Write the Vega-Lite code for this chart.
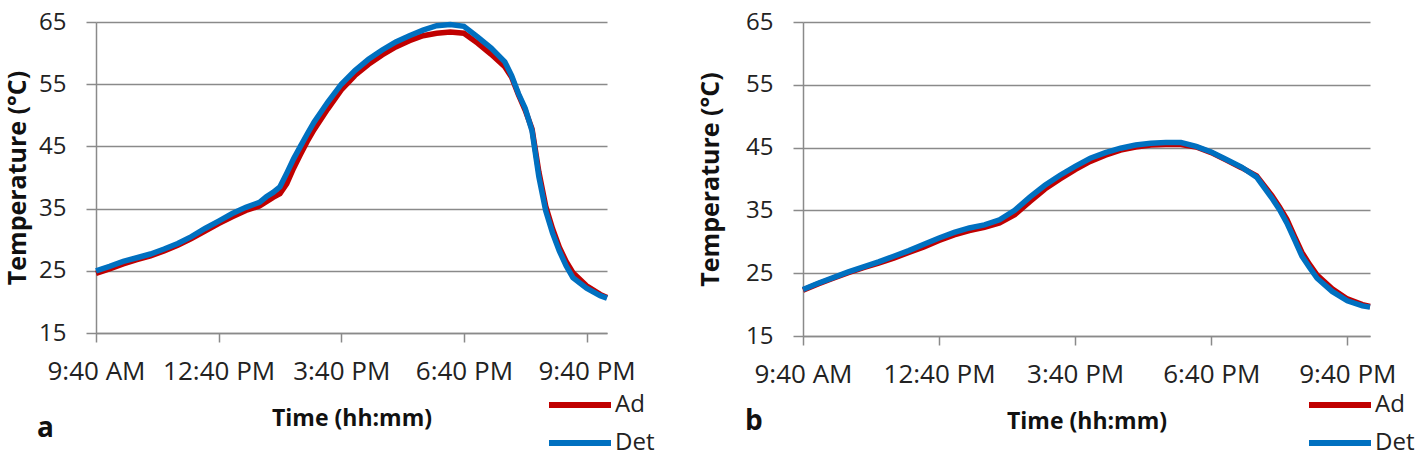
{
  "$schema": "https://vega.github.io/schema/vega-lite/v6.json",
  "background": "white",
  "padding": {"left": 5, "top": 10, "right": 0, "bottom": 0},
  "autosize": {"type": "pad"},
  "config": {
    "font": "Open Sans",
    "view": {"stroke": null},
    "axis": {
      "domainColor": "#8a8a8a",
      "domainWidth": 1.5,
      "tickColor": "#8a8a8a",
      "tickWidth": 1.5,
      "gridColor": "#8a8a8a",
      "gridWidth": 1.5,
      "labelColor": "#222222",
      "titleColor": "#111111",
      "labelFont": "Open Sans",
      "titleFont": "Open Sans",
      "titleFontWeight": "bold"
    }
  },
  "data": {"values": [
    {"panel":"a","time":"2020-01-01T09:40","series":"Ad","temp":24.6},
    {"panel":"a","time":"2020-01-01T10:00","series":"Ad","temp":25.3},
    {"panel":"a","time":"2020-01-01T10:20","series":"Ad","temp":26.1},
    {"panel":"a","time":"2020-01-01T10:40","series":"Ad","temp":26.8},
    {"panel":"a","time":"2020-01-01T11:00","series":"Ad","temp":27.4},
    {"panel":"a","time":"2020-01-01T11:20","series":"Ad","temp":28.2},
    {"panel":"a","time":"2020-01-01T11:40","series":"Ad","temp":29.1},
    {"panel":"a","time":"2020-01-01T12:00","series":"Ad","temp":30.2},
    {"panel":"a","time":"2020-01-01T12:20","series":"Ad","temp":31.4},
    {"panel":"a","time":"2020-01-01T12:40","series":"Ad","temp":32.6},
    {"panel":"a","time":"2020-01-01T13:00","series":"Ad","temp":33.7},
    {"panel":"a","time":"2020-01-01T13:20","series":"Ad","temp":34.7},
    {"panel":"a","time":"2020-01-01T13:40","series":"Ad","temp":35.4},
    {"panel":"a","time":"2020-01-01T14:00","series":"Ad","temp":36.8},
    {"panel":"a","time":"2020-01-01T14:10","series":"Ad","temp":37.4},
    {"panel":"a","time":"2020-01-01T14:20","series":"Ad","temp":39.0},
    {"panel":"a","time":"2020-01-01T14:30","series":"Ad","temp":41.5},
    {"panel":"a","time":"2020-01-01T14:40","series":"Ad","temp":43.7},
    {"panel":"a","time":"2020-01-01T14:50","series":"Ad","temp":45.8},
    {"panel":"a","time":"2020-01-01T15:00","series":"Ad","temp":47.7},
    {"panel":"a","time":"2020-01-01T15:20","series":"Ad","temp":51.0},
    {"panel":"a","time":"2020-01-01T15:40","series":"Ad","temp":54.1},
    {"panel":"a","time":"2020-01-01T16:00","series":"Ad","temp":56.4},
    {"panel":"a","time":"2020-01-01T16:20","series":"Ad","temp":58.2},
    {"panel":"a","time":"2020-01-01T16:40","series":"Ad","temp":59.7},
    {"panel":"a","time":"2020-01-01T17:00","series":"Ad","temp":61.0},
    {"panel":"a","time":"2020-01-01T17:20","series":"Ad","temp":62.0},
    {"panel":"a","time":"2020-01-01T17:40","series":"Ad","temp":62.8},
    {"panel":"a","time":"2020-01-01T18:00","series":"Ad","temp":63.2},
    {"panel":"a","time":"2020-01-01T18:20","series":"Ad","temp":63.4},
    {"panel":"a","time":"2020-01-01T18:40","series":"Ad","temp":63.2},
    {"panel":"a","time":"2020-01-01T19:00","series":"Ad","temp":61.6},
    {"panel":"a","time":"2020-01-01T19:20","series":"Ad","temp":59.8},
    {"panel":"a","time":"2020-01-01T19:40","series":"Ad","temp":57.8},
    {"panel":"a","time":"2020-01-01T19:50","series":"Ad","temp":56.1},
    {"panel":"a","time":"2020-01-01T20:00","series":"Ad","temp":53.3},
    {"panel":"a","time":"2020-01-01T20:10","series":"Ad","temp":50.8},
    {"panel":"a","time":"2020-01-01T20:20","series":"Ad","temp":47.8},
    {"panel":"a","time":"2020-01-01T20:30","series":"Ad","temp":40.9},
    {"panel":"a","time":"2020-01-01T20:40","series":"Ad","temp":35.4},
    {"panel":"a","time":"2020-01-01T20:50","series":"Ad","temp":31.8},
    {"panel":"a","time":"2020-01-01T21:00","series":"Ad","temp":28.8},
    {"panel":"a","time":"2020-01-01T21:10","series":"Ad","temp":26.5},
    {"panel":"a","time":"2020-01-01T21:20","series":"Ad","temp":24.7},
    {"panel":"a","time":"2020-01-01T21:40","series":"Ad","temp":22.6},
    {"panel":"a","time":"2020-01-01T22:00","series":"Ad","temp":21.2},
    {"panel":"a","time":"2020-01-01T22:10","series":"Ad","temp":20.7},
    {"panel":"a","time":"2020-01-01T09:40","series":"Det","temp":25.0},
    {"panel":"a","time":"2020-01-01T10:00","series":"Det","temp":25.7},
    {"panel":"a","time":"2020-01-01T10:20","series":"Det","temp":26.5},
    {"panel":"a","time":"2020-01-01T10:40","series":"Det","temp":27.1},
    {"panel":"a","time":"2020-01-01T11:00","series":"Det","temp":27.7},
    {"panel":"a","time":"2020-01-01T11:20","series":"Det","temp":28.5},
    {"panel":"a","time":"2020-01-01T11:40","series":"Det","temp":29.4},
    {"panel":"a","time":"2020-01-01T12:00","series":"Det","temp":30.5},
    {"panel":"a","time":"2020-01-01T12:20","series":"Det","temp":31.8},
    {"panel":"a","time":"2020-01-01T12:40","series":"Det","temp":33.0},
    {"panel":"a","time":"2020-01-01T13:00","series":"Det","temp":34.2},
    {"panel":"a","time":"2020-01-01T13:20","series":"Det","temp":35.2},
    {"panel":"a","time":"2020-01-01T13:40","series":"Det","temp":36.0},
    {"panel":"a","time":"2020-01-01T13:50","series":"Det","temp":36.9},
    {"panel":"a","time":"2020-01-01T14:00","series":"Det","temp":37.6},
    {"panel":"a","time":"2020-01-01T14:10","series":"Det","temp":38.5},
    {"panel":"a","time":"2020-01-01T14:20","series":"Det","temp":40.7},
    {"panel":"a","time":"2020-01-01T14:30","series":"Det","temp":43.0},
    {"panel":"a","time":"2020-01-01T14:40","series":"Det","temp":45.0},
    {"panel":"a","time":"2020-01-01T14:50","series":"Det","temp":47.0},
    {"panel":"a","time":"2020-01-01T15:00","series":"Det","temp":48.9},
    {"panel":"a","time":"2020-01-01T15:20","series":"Det","temp":52.1},
    {"panel":"a","time":"2020-01-01T15:40","series":"Det","temp":55.0},
    {"panel":"a","time":"2020-01-01T16:00","series":"Det","temp":57.2},
    {"panel":"a","time":"2020-01-01T16:20","series":"Det","temp":59.0},
    {"panel":"a","time":"2020-01-01T16:40","series":"Det","temp":60.5},
    {"panel":"a","time":"2020-01-01T17:00","series":"Det","temp":61.8},
    {"panel":"a","time":"2020-01-01T17:20","series":"Det","temp":62.8},
    {"panel":"a","time":"2020-01-01T17:40","series":"Det","temp":63.7},
    {"panel":"a","time":"2020-01-01T18:00","series":"Det","temp":64.4},
    {"panel":"a","time":"2020-01-01T18:20","series":"Det","temp":64.6},
    {"panel":"a","time":"2020-01-01T18:40","series":"Det","temp":64.3},
    {"panel":"a","time":"2020-01-01T19:00","series":"Det","temp":62.6},
    {"panel":"a","time":"2020-01-01T19:20","series":"Det","temp":60.8},
    {"panel":"a","time":"2020-01-01T19:40","series":"Det","temp":58.6},
    {"panel":"a","time":"2020-01-01T19:50","series":"Det","temp":56.4},
    {"panel":"a","time":"2020-01-01T20:00","series":"Det","temp":53.5},
    {"panel":"a","time":"2020-01-01T20:10","series":"Det","temp":51.1},
    {"panel":"a","time":"2020-01-01T20:20","series":"Det","temp":47.5},
    {"panel":"a","time":"2020-01-01T20:30","series":"Det","temp":40.1},
    {"panel":"a","time":"2020-01-01T20:40","series":"Det","temp":34.7},
    {"panel":"a","time":"2020-01-01T20:50","series":"Det","temp":31.1},
    {"panel":"a","time":"2020-01-01T21:00","series":"Det","temp":28.2},
    {"panel":"a","time":"2020-01-01T21:10","series":"Det","temp":25.8},
    {"panel":"a","time":"2020-01-01T21:20","series":"Det","temp":23.9},
    {"panel":"a","time":"2020-01-01T21:40","series":"Det","temp":22.2},
    {"panel":"a","time":"2020-01-01T22:00","series":"Det","temp":21.0},
    {"panel":"a","time":"2020-01-01T22:10","series":"Det","temp":20.6},
    {"panel":"b","time":"2020-01-01T09:40","series":"Ad","temp":22.3},
    {"panel":"b","time":"2020-01-01T10:00","series":"Ad","temp":23.3},
    {"panel":"b","time":"2020-01-01T10:20","series":"Ad","temp":24.2},
    {"panel":"b","time":"2020-01-01T10:40","series":"Ad","temp":25.1},
    {"panel":"b","time":"2020-01-01T11:00","series":"Ad","temp":25.9},
    {"panel":"b","time":"2020-01-01T11:20","series":"Ad","temp":26.6},
    {"panel":"b","time":"2020-01-01T11:40","series":"Ad","temp":27.4},
    {"panel":"b","time":"2020-01-01T12:00","series":"Ad","temp":28.3},
    {"panel":"b","time":"2020-01-01T12:20","series":"Ad","temp":29.2},
    {"panel":"b","time":"2020-01-01T12:40","series":"Ad","temp":30.2},
    {"panel":"b","time":"2020-01-01T13:00","series":"Ad","temp":31.1},
    {"panel":"b","time":"2020-01-01T13:20","series":"Ad","temp":31.8},
    {"panel":"b","time":"2020-01-01T13:40","series":"Ad","temp":32.3},
    {"panel":"b","time":"2020-01-01T14:00","series":"Ad","temp":33.0},
    {"panel":"b","time":"2020-01-01T14:20","series":"Ad","temp":34.3},
    {"panel":"b","time":"2020-01-01T14:40","series":"Ad","temp":36.4},
    {"panel":"b","time":"2020-01-01T15:00","series":"Ad","temp":38.4},
    {"panel":"b","time":"2020-01-01T15:20","series":"Ad","temp":40.0},
    {"panel":"b","time":"2020-01-01T15:40","series":"Ad","temp":41.5},
    {"panel":"b","time":"2020-01-01T16:00","series":"Ad","temp":42.8},
    {"panel":"b","time":"2020-01-01T16:20","series":"Ad","temp":43.8},
    {"panel":"b","time":"2020-01-01T16:40","series":"Ad","temp":44.6},
    {"panel":"b","time":"2020-01-01T17:00","series":"Ad","temp":45.1},
    {"panel":"b","time":"2020-01-01T17:20","series":"Ad","temp":45.4},
    {"panel":"b","time":"2020-01-01T17:40","series":"Ad","temp":45.5},
    {"panel":"b","time":"2020-01-01T18:00","series":"Ad","temp":45.5},
    {"panel":"b","time":"2020-01-01T18:20","series":"Ad","temp":45.1},
    {"panel":"b","time":"2020-01-01T18:40","series":"Ad","temp":44.2},
    {"panel":"b","time":"2020-01-01T19:00","series":"Ad","temp":43.0},
    {"panel":"b","time":"2020-01-01T19:20","series":"Ad","temp":41.8},
    {"panel":"b","time":"2020-01-01T19:40","series":"Ad","temp":40.5},
    {"panel":"b","time":"2020-01-01T20:00","series":"Ad","temp":37.4},
    {"panel":"b","time":"2020-01-01T20:10","series":"Ad","temp":35.6},
    {"panel":"b","time":"2020-01-01T20:20","series":"Ad","temp":33.6},
    {"panel":"b","time":"2020-01-01T20:30","series":"Ad","temp":30.9},
    {"panel":"b","time":"2020-01-01T20:40","series":"Ad","temp":28.3},
    {"panel":"b","time":"2020-01-01T20:50","series":"Ad","temp":26.4},
    {"panel":"b","time":"2020-01-01T21:00","series":"Ad","temp":24.7},
    {"panel":"b","time":"2020-01-01T21:20","series":"Ad","temp":22.5},
    {"panel":"b","time":"2020-01-01T21:40","series":"Ad","temp":20.9},
    {"panel":"b","time":"2020-01-01T22:00","series":"Ad","temp":20.0},
    {"panel":"b","time":"2020-01-01T22:10","series":"Ad","temp":19.7},
    {"panel":"b","time":"2020-01-01T09:40","series":"Det","temp":22.4},
    {"panel":"b","time":"2020-01-01T10:00","series":"Det","temp":23.4},
    {"panel":"b","time":"2020-01-01T10:20","series":"Det","temp":24.3},
    {"panel":"b","time":"2020-01-01T10:40","series":"Det","temp":25.2},
    {"panel":"b","time":"2020-01-01T11:00","series":"Det","temp":26.0},
    {"panel":"b","time":"2020-01-01T11:20","series":"Det","temp":26.8},
    {"panel":"b","time":"2020-01-01T11:40","series":"Det","temp":27.7},
    {"panel":"b","time":"2020-01-01T12:00","series":"Det","temp":28.6},
    {"panel":"b","time":"2020-01-01T12:20","series":"Det","temp":29.6},
    {"panel":"b","time":"2020-01-01T12:40","series":"Det","temp":30.6},
    {"panel":"b","time":"2020-01-01T13:00","series":"Det","temp":31.5},
    {"panel":"b","time":"2020-01-01T13:20","series":"Det","temp":32.2},
    {"panel":"b","time":"2020-01-01T13:40","series":"Det","temp":32.7},
    {"panel":"b","time":"2020-01-01T14:00","series":"Det","temp":33.5},
    {"panel":"b","time":"2020-01-01T14:20","series":"Det","temp":35.0},
    {"panel":"b","time":"2020-01-01T14:40","series":"Det","temp":37.1},
    {"panel":"b","time":"2020-01-01T15:00","series":"Det","temp":39.0},
    {"panel":"b","time":"2020-01-01T15:20","series":"Det","temp":40.6},
    {"panel":"b","time":"2020-01-01T15:40","series":"Det","temp":42.0},
    {"panel":"b","time":"2020-01-01T16:00","series":"Det","temp":43.3},
    {"panel":"b","time":"2020-01-01T16:20","series":"Det","temp":44.2},
    {"panel":"b","time":"2020-01-01T16:40","series":"Det","temp":44.9},
    {"panel":"b","time":"2020-01-01T17:00","series":"Det","temp":45.4},
    {"panel":"b","time":"2020-01-01T17:20","series":"Det","temp":45.7},
    {"panel":"b","time":"2020-01-01T17:40","series":"Det","temp":45.8},
    {"panel":"b","time":"2020-01-01T18:00","series":"Det","temp":45.8},
    {"panel":"b","time":"2020-01-01T18:20","series":"Det","temp":45.2},
    {"panel":"b","time":"2020-01-01T18:40","series":"Det","temp":44.3},
    {"panel":"b","time":"2020-01-01T19:00","series":"Det","temp":43.1},
    {"panel":"b","time":"2020-01-01T19:20","series":"Det","temp":41.9},
    {"panel":"b","time":"2020-01-01T19:40","series":"Det","temp":40.3},
    {"panel":"b","time":"2020-01-01T20:00","series":"Det","temp":37.0},
    {"panel":"b","time":"2020-01-01T20:10","series":"Det","temp":35.2},
    {"panel":"b","time":"2020-01-01T20:20","series":"Det","temp":33.0},
    {"panel":"b","time":"2020-01-01T20:30","series":"Det","temp":30.4},
    {"panel":"b","time":"2020-01-01T20:40","series":"Det","temp":27.7},
    {"panel":"b","time":"2020-01-01T20:50","series":"Det","temp":25.9},
    {"panel":"b","time":"2020-01-01T21:00","series":"Det","temp":24.2},
    {"panel":"b","time":"2020-01-01T21:20","series":"Det","temp":22.1},
    {"panel":"b","time":"2020-01-01T21:40","series":"Det","temp":20.6},
    {"panel":"b","time":"2020-01-01T22:00","series":"Det","temp":19.8},
    {"panel":"b","time":"2020-01-01T22:10","series":"Det","temp":19.6}
  ]},
  "hconcat": [
    {
      "width": 511,
      "height": 311,
      "title": {"text": "a", "orient": "bottom", "anchor": "start", "frame": "group", "dx": -59, "offset": -47, "fontSize": 28, "fontWeight": "bold", "color": "#111111", "font": "Open Sans"},
      "transform": [{"filter": "datum.panel == 'a'"}],
      "mark": {"type": "line", "strokeWidth": 5.5},
      "encoding": {
        "x": {"field": "time", "type": "temporal",
          "scale": {"domain": [{"year": 2020, "month": 1, "date": 1, "hours": 9, "minutes": 40}, {"year": 2020, "month": 1, "date": 1, "hours": 22, "minutes": 10}]},
          "axis": {"values": [
            {"year": 2020, "month": 1, "date": 1, "hours": 9, "minutes": 40},
            {"year": 2020, "month": 1, "date": 1, "hours": 12, "minutes": 40},
            {"year": 2020, "month": 1, "date": 1, "hours": 15, "minutes": 40},
            {"year": 2020, "month": 1, "date": 1, "hours": 18, "minutes": 40},
            {"year": 2020, "month": 1, "date": 1, "hours": 21, "minutes": 40}],
            "format": "%-I:%M %p", "title": "Time (hh:mm)", "grid": false, "tickSize": 9, "labelPadding": 16,
            "labelFontSize": 26, "titleFontSize": 23, "titlePadding": 23, "labelOverlap": false, "labelFlush": false}},
        "y": {"field": "temp", "type": "quantitative",
          "scale": {"domain": [15, 65], "nice": false, "zero": false},
          "axis": {"values": [15, 25, 35, 45, 55, 65], "title": "Temperature (°C)", "grid": true, "tickSize": 10, "labelPadding": 20,
            "labelFontSize": 24, "titleFontSize": 25, "titlePadding": 8}},
        "color": {"field": "series", "type": "nominal",
          "scale": {"domain": ["Ad", "Det"], "range": ["#C00000", "#0070C0"]},
          "legend": {"orient": "none", "legendX": 450, "legendY": 364, "title": null, "symbolType": "stroke", "symbolSize": 3844,
            "symbolStrokeWidth": 6, "clipHeight": 38, "rowPadding": 0, "labelFontSize": 24, "labelOffset": 1, "padding": 0,
            "labelColor": "#222222", "labelFont": "Open Sans"}}
      }
    },
    {
      "width": 567,
      "height": 314,
      "title": {"text": "b", "orient": "bottom", "anchor": "start", "frame": "group", "dx": -58, "offset": -54, "fontSize": 28, "fontWeight": "bold", "color": "#111111", "font": "Open Sans"},
      "transform": [{"filter": "datum.panel == 'b'"}],
      "mark": {"type": "line", "strokeWidth": 5.5},
      "encoding": {
        "x": {"field": "time", "type": "temporal",
          "scale": {"domain": [{"year": 2020, "month": 1, "date": 1, "hours": 9, "minutes": 40}, {"year": 2020, "month": 1, "date": 1, "hours": 22, "minutes": 10}]},
          "axis": {"values": [
            {"year": 2020, "month": 1, "date": 1, "hours": 9, "minutes": 40},
            {"year": 2020, "month": 1, "date": 1, "hours": 12, "minutes": 40},
            {"year": 2020, "month": 1, "date": 1, "hours": 15, "minutes": 40},
            {"year": 2020, "month": 1, "date": 1, "hours": 18, "minutes": 40},
            {"year": 2020, "month": 1, "date": 1, "hours": 21, "minutes": 40}],
            "format": "%-I:%M %p", "title": "Time (hh:mm)", "grid": false, "tickSize": 9, "labelPadding": 16,
            "labelFontSize": 26, "titleFontSize": 23, "titlePadding": 23, "labelOverlap": false, "labelFlush": false}},
        "y": {"field": "temp", "type": "quantitative",
          "scale": {"domain": [15, 65], "nice": false, "zero": false},
          "axis": {"values": [15, 25, 35, 45, 55, 65], "title": "Temperature (°C)", "grid": true, "tickSize": 10, "labelPadding": 20,
            "labelFontSize": 24, "titleFontSize": 25, "titlePadding": 22}},
        "color": {"field": "series", "type": "nominal",
          "scale": {"domain": ["Ad", "Det"], "range": ["#C00000", "#0070C0"]},
          "legend": {"orient": "none", "legendX": 503, "legendY": 364, "title": null, "symbolType": "stroke", "symbolSize": 3844,
            "symbolStrokeWidth": 6, "clipHeight": 38, "rowPadding": 0, "labelFontSize": 24, "labelOffset": 1, "padding": 0,
            "labelColor": "#222222", "labelFont": "Open Sans"}}
      }
    }
  ],
  "spacing": 196,
  "bounds": "flush",
  "resolve": {"scale": {"x": "independent", "y": "independent", "color": "independent"}, "legend": {"color": "independent"}}
}
